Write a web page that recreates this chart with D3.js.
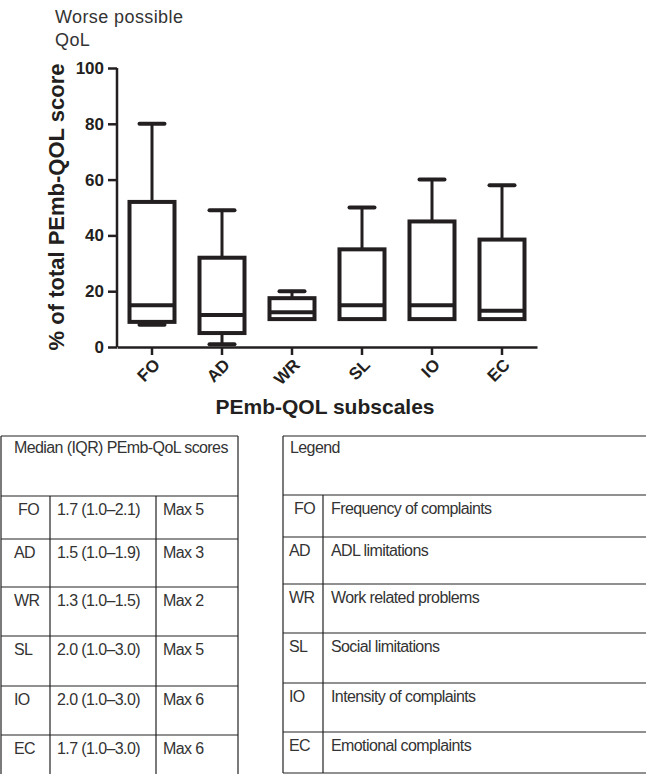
<!DOCTYPE html>
<html>
<head>
<meta charset="utf-8">
<script src="https://cdn.jsdelivr.net/npm/d3@7"></script>
<style>
  body { margin: 0; background: #fff; }
  svg { display: block; font-family: "Liberation Sans", Arial, sans-serif; }
</style>
</head>
<body>
<svg width="646" height="774"></svg>
<script>
// box plot values (% of total PEmb-QOL score)
var subscales = ["FO", "AD", "WR", "SL", "IO", "EC"];
var whiskerLow  = [8, 1, 10, 10, 10, 10];
var q1          = [9, 5, 10, 10, 10, 10];
var median      = [15, 11.5, 12.5, 15, 15, 13];
var q3          = [52, 32, 17.5, 35, 45, 38.5];
var whiskerHigh = [80, 49, 20, 50, 60, 58];
var yTicks = [0, 20, 40, 60, 80, 100];

// tables
var scoreText = ["1.7 (1.0\u20132.1)", "1.5 (1.0\u20131.9)", "1.3 (1.0\u20131.5)",
                 "2.0 (1.0\u20133.0)", "2.0 (1.0\u20133.0)", "1.7 (1.0\u20133.0)"];
var maxText = ["Max 5", "Max 3", "Max 2", "Max 5", "Max 6", "Max 6"];
var legendText = ["Frequency of complaints", "ADL limitations", "Work related problems",
                  "Social limitations", "Intensity of complaints", "Emotional complaints"];

var data = subscales.map(function(d, i) {
  return { name: d, lo: whiskerLow[i], q1: q1[i], med: median[i], q3: q3[i], hi: whiskerHigh[i] };
});

var svg = d3.select("svg");
var ink = "#231f20";
var font = "Liberation Sans, Arial, sans-serif";

var x = d3.scaleBand().domain(subscales).range([117, 537]);
var y = d3.scaleLinear().domain([0, 100]).range([347, 68]);
var boxW = 45, capW = 25;

// note above the chart
svg.append("text").attr("x", 55).attr("y", 23).text("Worse possible")
  .style("font-size", "18px").style("letter-spacing", "0.4px").style("fill", "#333");
svg.append("text").attr("x", 55).attr("y", 46).text("QoL")
  .style("font-size", "18px").style("letter-spacing", "0.4px").style("fill", "#333");

// axes
var yAxis = svg.append("g")
  .attr("transform", "translate(117,0)")
  .call(d3.axisLeft(y).tickValues(yTicks).tickSize(9).tickPadding(4));
var xAxis = svg.append("g")
  .attr("transform", "translate(0,347)")
  .call(d3.axisBottom(x).tickSize(8).tickSizeOuter(0));
xAxis.selectAll(".tick text").remove();

[yAxis, xAxis].forEach(function(a) {
  a.select(".domain").attr("stroke", ink).attr("stroke-width", 2.5);
  a.selectAll(".tick line").attr("stroke", ink).attr("stroke-width", 2.5);
});
yAxis.selectAll("text").style("font-size", "17px").style("font-weight", "bold")
  .style("fill", ink).style("font-family", font);
yAxis.select(".domain").attr("d", "M0," + y(100) + "V" + y(0));

// rotated category labels
svg.selectAll(".xlab").data(subscales).enter().append("text")
  .attr("class", "xlab")
  .attr("text-anchor", "end")
  .attr("transform", function(d) {
    return "translate(" + (x(d) + x.bandwidth() / 2 + 9) + ",366) rotate(-45)";
  })
  .text(function(d) { return d; })
  .style("font-size", "17px").style("font-weight", "bold").style("fill", ink);

// axis titles
svg.append("text")
  .attr("transform", "translate(64,207) rotate(-90)")
  .attr("text-anchor", "middle")
  .text("% of total PEmb-QOL score")
  .style("font-size", "22px").style("font-weight", "bold").style("fill", ink);
svg.append("text")
  .attr("x", 325).attr("y", 414)
  .attr("text-anchor", "middle")
  .text("PEmb-QOL subscales")
  .style("font-size", "21px").style("font-weight", "bold").style("fill", ink);

// boxes
var boxes = svg.selectAll(".box").data(data).enter().append("g").attr("class", "box")
  .attr("transform", function(d) { return "translate(" + (x(d.name) + x.bandwidth() / 2) + ",0)"; });

boxes.append("line")
  .attr("x1", 0).attr("x2", 0)
  .attr("y1", function(d) { return y(d.hi); })
  .attr("y2", function(d) { return y(d.q3); })
  .attr("stroke", ink).attr("stroke-width", 3);
boxes.append("line")
  .attr("x1", 0).attr("x2", 0)
  .attr("y1", function(d) { return y(d.q1); })
  .attr("y2", function(d) { return y(d.lo); })
  .attr("stroke", ink).attr("stroke-width", 3);
boxes.append("line")
  .attr("x1", -capW / 2).attr("x2", capW / 2)
  .attr("y1", function(d) { return y(d.hi); })
  .attr("y2", function(d) { return y(d.hi); })
  .attr("stroke", ink).attr("stroke-width", 4).attr("stroke-linecap", "round");
boxes.append("line")
  .attr("x1", -capW / 2).attr("x2", capW / 2)
  .attr("y1", function(d) { return y(d.lo); })
  .attr("y2", function(d) { return y(d.lo); })
  .attr("stroke", ink).attr("stroke-width", 4).attr("stroke-linecap", "round");
boxes.append("rect")
  .attr("x", -boxW / 2)
  .attr("y", function(d) { return y(d.q3); })
  .attr("width", boxW)
  .attr("height", function(d) { return y(d.q1) - y(d.q3); })
  .attr("fill", "#fff").attr("stroke", ink).attr("stroke-width", 4);
boxes.append("line")
  .attr("x1", -boxW / 2).attr("x2", boxW / 2)
  .attr("y1", function(d) { return y(d.med); })
  .attr("y2", function(d) { return y(d.med); })
  .attr("stroke", ink).attr("stroke-width", 4);

// tables
var lineCol = "#222", txtCol = "#333";
function hline(x1, x2, yy) {
  svg.append("line").attr("x1", x1).attr("x2", x2).attr("y1", yy).attr("y2", yy)
    .attr("stroke", lineCol).attr("stroke-width", 1.2);
}
function vline(xx, y1, y2) {
  svg.append("line").attr("x1", xx).attr("x2", xx).attr("y1", y1).attr("y2", y2)
    .attr("stroke", lineCol).attr("stroke-width", 1.2);
}
function txt(xx, yy, s) {
  svg.append("text").attr("x", xx).attr("y", yy).text(s)
    .style("font-size", "16px").style("letter-spacing", "-0.6px").style("fill", txtCol);
}

// left table
var leftRows = [496, 539, 587, 636, 686, 735];
hline(1, 238, 436);
leftRows.forEach(function(r) { hline(1, 238, r); });
vline(1, 436, 774);
vline(238, 436, 774);
vline(50, 496, 774);
vline(156, 496, 774);
txt(14, 453, "Median (IQR) PEmb-QoL scores");
subscales.forEach(function(s, i) {
  var base = leftRows[i] + 19;
  txt(i === 0 ? 18 : 14, base, s);
  txt(57, base, scoreText[i]);
  txt(163, base, maxText[i]);
});

// right table
var rightRows = [495, 537, 584, 633, 683, 732, 773];
hline(283, 646, 436);
rightRows.forEach(function(r) { hline(283, 646, r); });
vline(283, 436, 773);
vline(323, 495, 773);
txt(290, 453, "Legend");
subscales.forEach(function(s, i) {
  var base = rightRows[i] + 19;
  txt(i === 0 ? 294 : 289, base, s);
  txt(331, base, legendText[i]);
});
</script>
</body>
</html>
